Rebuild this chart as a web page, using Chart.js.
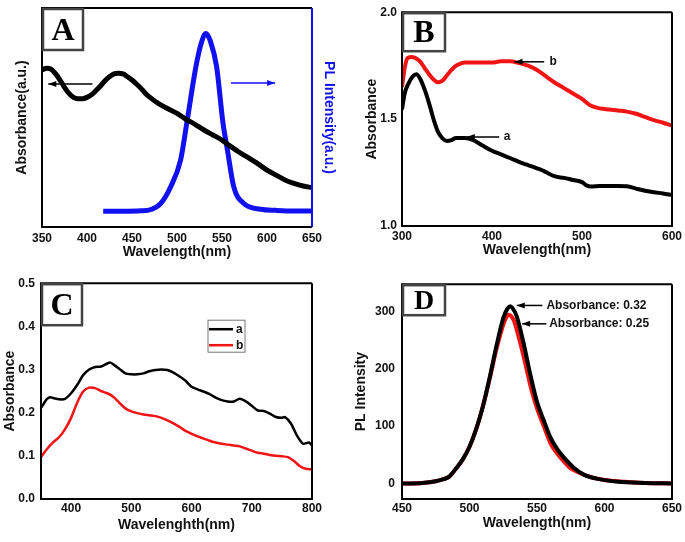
<!DOCTYPE html>
<html>
<head>
<meta charset="utf-8">
<script src="https://cdn.jsdelivr.net/npm/chart.js@4.4.0/dist/chart.umd.min.js"></script>
<style>
  body { margin: 0; background: #fff; }
  #wrap { position: relative; width: 685px; height: 542px; overflow: hidden; }
  #wrap canvas { position: absolute; }
</style>
</head>
<body>
<div id="wrap">
  <canvas id="chartA" width="342" height="270" style="left:0;top:0"></canvas>
  <canvas id="chartB" width="343" height="270" style="left:342px;top:0"></canvas>
  <canvas id="chartC" width="342" height="272" style="left:0;top:270px"></canvas>
  <canvas id="chartD" width="343" height="272" style="left:342px;top:270px"></canvas>
</div>
<script>
// ---- data: panel A (absorbance + PL, arbitrary units) ----
var wlA = [350, 355, 360, 365, 370, 375, 380, 385, 390, 395, 400, 405, 410, 415, 420, 425, 430, 435, 440, 445, 450, 455, 460, 465, 470, 480, 490, 500, 510, 520, 530, 540, 550, 560, 570, 580, 590, 600, 610, 620, 630, 640, 650];
var absA = [0.717, 0.725, 0.721, 0.70, 0.671, 0.638, 0.610, 0.592, 0.586, 0.586, 0.592, 0.604, 0.623, 0.644, 0.668, 0.686, 0.699, 0.702, 0.699, 0.686, 0.671, 0.653, 0.633, 0.610, 0.592, 0.562, 0.540, 0.519, 0.492, 0.469, 0.443, 0.420, 0.397, 0.367, 0.339, 0.314, 0.288, 0.260, 0.237, 0.215, 0.199, 0.187, 0.180];
var wlPL = [418, 440, 460, 471, 482, 493, 504, 511, 521, 527, 532, 537, 544, 551, 556, 563, 574, 593, 610, 630, 650];
var plA = [0.072, 0.072, 0.074, 0.080, 0.108, 0.184, 0.306, 0.478, 0.732, 0.84, 0.884, 0.85, 0.732, 0.478, 0.352, 0.184, 0.108, 0.081, 0.076, 0.073, 0.073];
var ticksAx = [350, 400, 450, 500, 550, 600, 650];

// ---- data: panel B ----
var wlBa = [300, 303, 307, 312, 316, 320, 325, 330, 335, 340, 345, 350, 355, 360, 370, 380, 390, 400, 410, 420, 430, 440, 450, 455, 460, 470, 480, 490, 500, 505, 510, 520, 530, 540, 550, 560, 570, 580, 590, 600];
var absBa = [1.545, 1.62, 1.665, 1.70, 1.71, 1.69, 1.64, 1.575, 1.50, 1.44, 1.41, 1.398, 1.402, 1.412, 1.412, 1.40, 1.375, 1.352, 1.335, 1.318, 1.30, 1.285, 1.27, 1.262, 1.252, 1.232, 1.225, 1.215, 1.205, 1.19, 1.185, 1.187, 1.187, 1.187, 1.186, 1.175, 1.165, 1.158, 1.152, 1.145];
var wlBb = [300, 303, 306, 310, 315, 320, 325, 330, 335, 340, 345, 350, 355, 360, 365, 370, 380, 390, 400, 410, 420, 430, 440, 450, 460, 470, 480, 490, 500, 510, 520, 530, 540, 550, 560, 570, 580, 590, 600];
var absBb = [1.65, 1.74, 1.785, 1.79, 1.785, 1.77, 1.74, 1.71, 1.685, 1.672, 1.68, 1.705, 1.73, 1.75, 1.76, 1.765, 1.765, 1.765, 1.765, 1.77, 1.77, 1.762, 1.75, 1.73, 1.70, 1.67, 1.645, 1.62, 1.595, 1.562, 1.55, 1.545, 1.54, 1.535, 1.525, 1.51, 1.495, 1.483, 1.47];
var ticksBx = [300, 400, 500, 600];
var ticksBy = [1.0, 1.5, 2.0];

// ---- data: panel C ----
var wlCa = [350, 355, 360, 365, 370, 380, 390, 400, 410, 420, 430, 440, 450, 460, 465, 470, 480, 490, 500, 510, 520, 530, 540, 550, 560, 570, 580, 590, 600, 610, 620, 630, 640, 650, 660, 670, 680, 690, 700, 710, 720, 730, 740, 750, 755, 765, 775, 785, 795, 800];
var absCa = [0.211, 0.222, 0.232, 0.236, 0.234, 0.231, 0.232, 0.245, 0.264, 0.287, 0.300, 0.306, 0.307, 0.314, 0.316, 0.312, 0.302, 0.291, 0.289, 0.289, 0.291, 0.296, 0.299, 0.300, 0.299, 0.293, 0.284, 0.274, 0.260, 0.254, 0.249, 0.243, 0.235, 0.229, 0.226, 0.226, 0.232, 0.226, 0.216, 0.205, 0.204, 0.198, 0.190, 0.188, 0.190, 0.175, 0.147, 0.128, 0.131, 0.124];
var wlCb = [350, 360, 370, 380, 390, 400, 410, 420, 430, 440, 450, 460, 470, 480, 490, 500, 510, 520, 530, 540, 550, 560, 570, 580, 590, 600, 610, 620, 630, 640, 650, 660, 670, 680, 690, 700, 710, 720, 730, 740, 750, 760, 770, 780, 790, 800];
var absCb = [0.097, 0.116, 0.131, 0.143, 0.162, 0.188, 0.223, 0.249, 0.258, 0.257, 0.250, 0.245, 0.237, 0.223, 0.210, 0.203, 0.199, 0.196, 0.194, 0.192, 0.188, 0.182, 0.175, 0.167, 0.158, 0.151, 0.145, 0.140, 0.135, 0.131, 0.128, 0.126, 0.124, 0.122, 0.117, 0.112, 0.107, 0.105, 0.102, 0.100, 0.099, 0.097, 0.088, 0.076, 0.070, 0.069];
var ticksCx = [400, 500, 600, 700, 800];
var ticksCy = [0.0, 0.1, 0.2, 0.3, 0.4, 0.5];

// ---- data: panel D (PL intensity) ----
var wlDa = [450, 465, 475, 480, 485, 490, 495, 500, 505, 510, 515, 520, 525, 528, 530, 532, 535, 540, 545, 550, 555, 560, 565, 570, 577, 585, 595, 610, 630, 650];
var plDa = [0, 1, 4, 7, 12, 26, 42, 64, 95, 135, 185, 240, 288, 304, 308.6, 305, 291, 245, 190, 142, 110, 80, 60, 45, 28, 15, 8, 3, 1, 0];
var wlDb = [450, 465, 475, 480, 485, 490, 495, 500, 505, 510, 515, 520, 525, 527, 529, 531, 533, 537, 540, 546, 550, 555, 560, 565, 570, 574, 580, 590, 600, 615, 630, 650];
var plDb = [0, 1, 4, 7, 12, 26, 42, 64, 95, 135, 183, 234, 276, 288, 293.6, 291, 283, 250, 222, 162, 131, 100, 70, 52, 38, 28, 20, 11, 6, 3, 1, 0];
var ticksDx = [450, 500, 550, 600, 650];
var ticksDy = [0, 100, 200, 300];

var RED = '#f01414';
var BLUE = '#1010f0';
var FONT = 'Liberation Sans, Arial, sans-serif';

Chart.defaults.font.family = FONT;
Chart.defaults.color = '#111';
Chart.defaults.animation = false;

function pts(xs, ys) {
  return xs.map(function (x, i) { return { x: x, y: ys[i] }; });
}

function fixedTicks(list) {
  return function (scale) {
    scale.ticks = list.map(function (v) { return { value: v }; });
  };
}

// frame, panel letter, arrows, legend
var decorPlugin = {
  id: 'decor',
  afterDatasetsDraw: function (chart, args, opts) {
    var ctx = chart.ctx;
    var a = chart.chartArea;
    ctx.save();

    // frame
    ctx.lineWidth = 2;
    ctx.strokeStyle = '#000';
    ctx.beginPath();
    ctx.moveTo(a.right, a.top);
    ctx.lineTo(a.left, a.top);
    ctx.lineTo(a.left, a.bottom);
    ctx.lineTo(a.right, a.bottom);
    if (!opts.rightColor) ctx.lineTo(a.right, a.top);
    ctx.stroke();
    if (opts.rightColor) {
      ctx.strokeStyle = opts.rightColor;
      ctx.beginPath();
      ctx.moveTo(a.right, a.bottom);
      ctx.lineTo(a.right, a.top);
      ctx.stroke();
    }

    // arrows with labels (head sits at x1)
    (opts.arrows || []).forEach(function (ar) {
      var yScale = chart.scales[ar.axis || 'y'];
      var x1 = chart.scales.x.getPixelForValue(ar.x1);
      var x2 = chart.scales.x.getPixelForValue(ar.x2);
      var y = yScale.getPixelForValue(ar.y);
      ctx.strokeStyle = ar.color;
      ctx.fillStyle = ar.color;
      ctx.lineWidth = 1.5;
      ctx.beginPath();
      ctx.moveTo(x1, y);
      ctx.lineTo(x2, y);
      ctx.stroke();
      var dir = x1 < x2 ? 1 : -1;
      ctx.beginPath();
      ctx.moveTo(x1, y);
      ctx.lineTo(x1 + dir * 8, y - 3);
      ctx.lineTo(x1 + dir * 8, y + 3);
      ctx.closePath();
      ctx.fill();
      if (ar.text) {
        ctx.fillStyle = '#111';
        ctx.font = ar.font || ('bold 12px ' + FONT);
        ctx.textAlign = 'left';
        ctx.textBaseline = 'middle';
        ctx.fillText(ar.text, chart.scales.x.getPixelForValue(ar.tx), y);
      }
    });

    // small legend box
    if (opts.legend) {
      var lg = opts.legend;
      var lx = a.left + lg.dx, ly = a.top + lg.dy;
      ctx.strokeStyle = '#777';
      ctx.lineWidth = 1;
      ctx.strokeRect(lx, ly, lg.w, lg.h);
      chart.data.datasets.forEach(function (ds, i) {
        var yy = ly + 9 + i * 16;
        ctx.strokeStyle = ds.borderColor;
        ctx.lineWidth = 2.5;
        ctx.beginPath();
        ctx.moveTo(lx + 1, yy);
        ctx.lineTo(lx + 25, yy);
        ctx.stroke();
        ctx.fillStyle = '#111';
        ctx.font = 'bold 12px ' + FONT;
        ctx.textAlign = 'left';
        ctx.textBaseline = 'middle';
        ctx.fillText(ds.label, lx + 28, yy);
      });
    }

    // panel letter in a grey box
    var b = opts.box;
    var bx = a.left + 1, by = a.top + 1;
    ctx.fillStyle = '#fff';
    ctx.fillRect(bx, by, b.w, b.h);
    ctx.strokeStyle = '#444';
    ctx.lineWidth = 2.5;
    ctx.strokeRect(bx, by, b.w, b.h);
    ctx.fillStyle = '#000';
    ctx.font = 'bold ' + b.size + 'px "Liberation Serif", "Times New Roman", serif';
    ctx.textAlign = 'center';
    ctx.textBaseline = 'middle';
    ctx.fillText(opts.letter, bx + b.w / 2, by + b.h / 2 + 2);

    ctx.restore();
  }
};

function xAxis(min, max, ticks, title, height, tickPad, titlePad) {
  return {
    type: 'linear', position: 'bottom', min: min, max: max,
    grid: { display: false, drawTicks: false },
    border: { display: false },
    afterBuildTicks: fixedTicks(ticks),
    afterFit: function (s) { s.height = height; },
    ticks: { padding: tickPad, font: { size: 12, weight: 'bold' }, maxRotation: 0, autoSkip: false },
    title: { display: true, text: title, font: { size: 14, weight: 'bold' }, padding: { top: 0, bottom: titlePad } }
  };
}

function yAxis(min, max, ticks, title, width, tickPad, titlePad, fmt) {
  return {
    type: 'linear', position: 'left', min: min, max: max,
    grid: { display: false, drawTicks: false },
    border: { display: false },
    afterBuildTicks: fixedTicks(ticks),
    afterFit: function (s) { s.width = width; },
    ticks: {
      padding: tickPad, font: { size: 12, weight: 'bold' }, autoSkip: false,
      callback: function (v) { return fmt ? v.toFixed(fmt) : String(v); }
    },
    title: { display: true, text: title, font: { size: 14, weight: 'bold' }, padding: { top: titlePad, bottom: 0 } }
  };
}

function line(label, xs, ys, color, width, smooth) {
  return {
    label: label, data: pts(xs, ys), borderColor: color, backgroundColor: color,
    borderWidth: width, pointRadius: 0, fill: false,
    cubicInterpolationMode: smooth ? 'monotone' : 'default', tension: smooth ? 0 : 0.25
  };
}

// ---- Panel A ----
var yLeftA = yAxis(0, 1, [], 'Absorbance(a.u.)', 42, 0, 14, 0);
yLeftA.ticks.display = false;
var yRightA = {
  type: 'linear', position: 'right', min: 0, max: 1,
  grid: { display: false, drawTicks: false }, border: { display: false },
  ticks: { display: false },
  afterFit: function (s) { s.width = 30; },
  title: { display: true, text: 'PL Intensity(a.u.)', color: BLUE, font: { size: 14, weight: 'bold' }, padding: { top: 5, bottom: 0 } }
};
new Chart(document.getElementById('chartA'), {
  type: 'line',
  data: {
    datasets: [
      Object.assign(line('Absorbance', wlA, absA, '#000', 5, true), { yAxisID: 'y' }),
      Object.assign(line('PL', wlPL, plA, BLUE, 5, true), { yAxisID: 'y2' })
    ]
  },
  options: {
    responsive: false,
    layout: { padding: { top: 8, right: 0, bottom: 0, left: 0 } },
    scales: { x: xAxis(350, 650, ticksAx, 'Wavelength(nm)', 43, 4, 9), y: yLeftA, y2: yRightA },
    plugins: {
      legend: { display: false }, tooltip: { enabled: false },
      decor: {
        letter: 'A', box: { w: 40, h: 41, size: 32 }, rightColor: BLUE,
        arrows: [
          { x1: 357, x2: 406, y: 0.653, color: '#000' },
          { x1: 609, x2: 560, y: 0.658, color: BLUE, axis: 'y2' }
        ]
      }
    }
  },
  plugins: [decorPlugin]
});

// ---- Panel B ----
new Chart(document.getElementById('chartB'), {
  type: 'line',
  data: {
    datasets: [
      line('a', wlBa, absBa, '#000', 4, true),
      line('b', wlBb, absBb, RED, 4, true)
    ]
  },
  options: {
    responsive: false,
    layout: { padding: { top: 9, right: 13, bottom: 0, left: 0 } },
    scales: {
      x: xAxis(300, 600, ticksBx, 'Wavelength(nm)', 44, 3, 11),
      y: yAxis(1.0, 2.0, ticksBy, 'Absorbance', 60, 5, 22, 1)
    },
    plugins: {
      legend: { display: false }, tooltip: { enabled: false },
      decor: {
        letter: 'B', box: { w: 42, h: 38, size: 32 },
        arrows: [
          { x1: 425, x2: 458, y: 1.768, color: '#000', text: 'b', tx: 464 },
          { x1: 372, x2: 408, y: 1.416, color: '#000', text: 'a', tx: 413 }
        ]
      }
    }
  },
  plugins: [decorPlugin]
});

// ---- Panel C ----
new Chart(document.getElementById('chartC'), {
  type: 'line',
  data: {
    datasets: [
      line('a', wlCa, absCa, '#000', 2.5, false),
      line('b', wlCb, absCb, RED, 2.5, false)
    ]
  },
  options: {
    responsive: false,
    layout: { padding: { top: 10, right: 30, bottom: 0, left: 0 } },
    scales: {
      x: xAxis(350, 800, ticksCx, 'Wavelenghth(nm)', 43, 2, 8),
      y: yAxis(0, 0.5, ticksCy, 'Absorbance', 41, 6, 2, 1)
    },
    plugins: {
      legend: { display: false }, tooltip: { enabled: false },
      decor: {
        letter: 'C', box: { w: 40, h: 41, size: 32 },
        legend: { dx: 167, dy: 37, w: 37, h: 32 }
      }
    }
  },
  plugins: [decorPlugin]
});

// ---- Panel D ----
new Chart(document.getElementById('chartD'), {
  type: 'line',
  data: {
    datasets: [
      line('Absorbance: 0.32', wlDa, plDa, '#000', 4, true),
      line('Absorbance: 0.25', wlDb, plDb, RED, 4, true)
    ]
  },
  options: {
    responsive: false,
    layout: { padding: { top: 12, right: 13, bottom: 0, left: 0 } },
    scales: {
      x: xAxis(450, 650, ticksDx, 'Wavelength(nm)', 43, 2, 10),
      y: yAxis(-27, 347, ticksDy, 'PL Intensity', 60, 7, 11, 0)
    },
    plugins: {
      legend: { display: false }, tooltip: { enabled: false },
      decor: {
        letter: 'D', box: { w: 42, h: 30, size: 28 },
        arrows: [
          { x1: 535, x2: 554, y: 310, color: '#000', text: 'Absorbance: 0.32', tx: 557 },
          { x1: 539, x2: 557, y: 278, color: '#000', text: 'Absorbance: 0.25', tx: 559 }
        ]
      }
    }
  },
  plugins: [decorPlugin]
});
</script>
</body>
</html>
